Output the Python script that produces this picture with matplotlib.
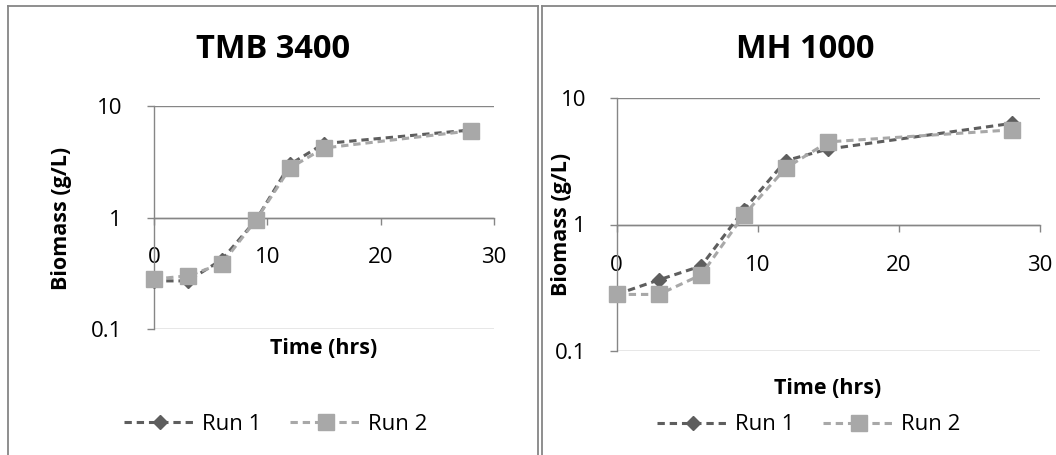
import numpy as np
import matplotlib
matplotlib.use("Agg")
import matplotlib.pyplot as plt
from matplotlib.lines import Line2D

plt.rcParams['font.family'] = ['Open Sans', 'DejaVu Sans']

# data (time in hrs, biomass in g/L)
time_hrs = [0, 3, 6, 9, 12, 15, 28]
tmb_run1 = [0.27, 0.27, 0.42, 0.95, 3.0, 4.6, 6.1]
tmb_run2 = [0.28, 0.30, 0.385, 0.95, 2.78, 4.2, 6.0]
mh_run1 = [0.28, 0.365, 0.47, 1.3, 3.2, 3.95, 6.3]
mh_run2 = [0.28, 0.28, 0.40, 1.18, 2.8, 4.5, 5.6]
titles = ["TMB 3400", "MH 1000"]
series_names = ["Run 1", "Run 2"]
xticks = [0, 10, 20, 30]
yticks = [0.1, 1, 10]
ytick_labels = ["0.1", "1", "10"]

W, H = 1056, 455
GRAY = '#868686'
C1 = '#5E5E5E'
C2 = '#A8A8A8'


def px_rect(x0, x1, ytop, ybot):
    return [x0 / W, 1 - ybot / H, (x1 - x0) / W, (ybot - ytop) / H]


fig = plt.figure(figsize=(W / 100, H / 100), dpi=100)

# panel borders
for (xa, ya, xb, yb) in [(7.5, 5.5, 537.5, 5.5), (7.5, 5.5, 7.5, 455),
                         (537.5, 5.5, 537.5, 455),
                         (541.5, 5.5, 1056, 5.5), (541.5, 5.5, 541.5, 455)]:
    fig.add_artist(Line2D([xa / W, xb / W], [1 - ya / H, 1 - yb / H],
                          color=GRAY, lw=1.3, transform=fig.transFigure))

panels = [
    dict(rect=px_rect(154, 494, 106, 329), title=titles[0], r1=tmb_run1, r2=tmb_run2,
         title_xy=(273, 50), ylab_xy=(61, 218), xlab_xy=(324, 349), leg_xy=(276, 424),
         xpad=16, ypad=18),
    dict(rect=px_rect(616.5, 1040, 98, 351), title=titles[1], r1=mh_run1, r2=mh_run2,
         title_xy=(805, 50), ylab_xy=(561, 224), xlab_xy=(828, 389), leg_xy=(809, 425),
         xpad=17, ypad=17),
]

for p in panels:
    ax = fig.add_axes(p['rect'])
    ax.set_yscale('log')
    ax.set_xlim(0, 30)
    ax.set_ylim(0.1, 10)
    ax.plot(time_hrs, p['r1'], color=C1, lw=2.2, ls=(0, (2.4, 1.6)), marker='D', ms=7,
            mfc=C1, mec=C1, label=series_names[0], clip_on=False, zorder=3)
    ax.plot(time_hrs, p['r2'], color=C2, lw=2.2, ls=(0, (2.4, 1.6)), marker='s', ms=11,
            mfc=C2, mec=C2, label=series_names[1], clip_on=False, zorder=4)

    ax.set_yticks(yticks)
    ax.set_yticklabels(ytick_labels)
    ax.yaxis.set_minor_locator(matplotlib.ticker.NullLocator())
    ax.set_xticks(xticks)
    ax.yaxis.grid(True, color=GRAY, lw=1.0)
    ax.set_axisbelow(True)

    for s in ['top', 'right']:
        ax.spines[s].set_visible(False)
    ax.spines['left'].set_color(GRAY)
    ax.spines['left'].set_linewidth(1.0)
    ax.spines['bottom'].set_position(('data', 1))
    ax.spines['bottom'].set_color(GRAY)
    ax.spines['bottom'].set_linewidth(1.0)
    ax.tick_params(axis='x', direction='out', length=5, width=1.0, color=GRAY,
                   labelsize=16, pad=p['xpad'])
    ax.tick_params(axis='y', direction='out', length=5, width=1.0, color=GRAY,
                   labelsize=16, pad=p['ypad'])

    tx, ty = p['title_xy']
    fig.text(tx / W, 1 - ty / H, p['title'], ha='center', va='center',
             fontsize=23.5, fontweight='bold')
    lx, ly = p['ylab_xy']
    fig.text(lx / W, 1 - ly / H, "Biomass (g/L)", ha='center', va='center',
             rotation=90, fontsize=15.5, fontweight='bold')
    xx, xy = p['xlab_xy']
    fig.text(xx / W, 1 - xy / H, "Time (hrs)", ha='center', va='center',
             fontsize=15.5, fontweight='bold')

    gx, gy = p['leg_xy']
    ax.legend(loc='center', bbox_to_anchor=(gx / W, 1 - gy / H),
              bbox_transform=fig.transFigure, ncol=2, frameon=False,
              fontsize=16, handlelength=3.2, handletextpad=0.3, columnspacing=1.3,
              borderpad=0)

fig.savefig('out.png', dpi=100)
